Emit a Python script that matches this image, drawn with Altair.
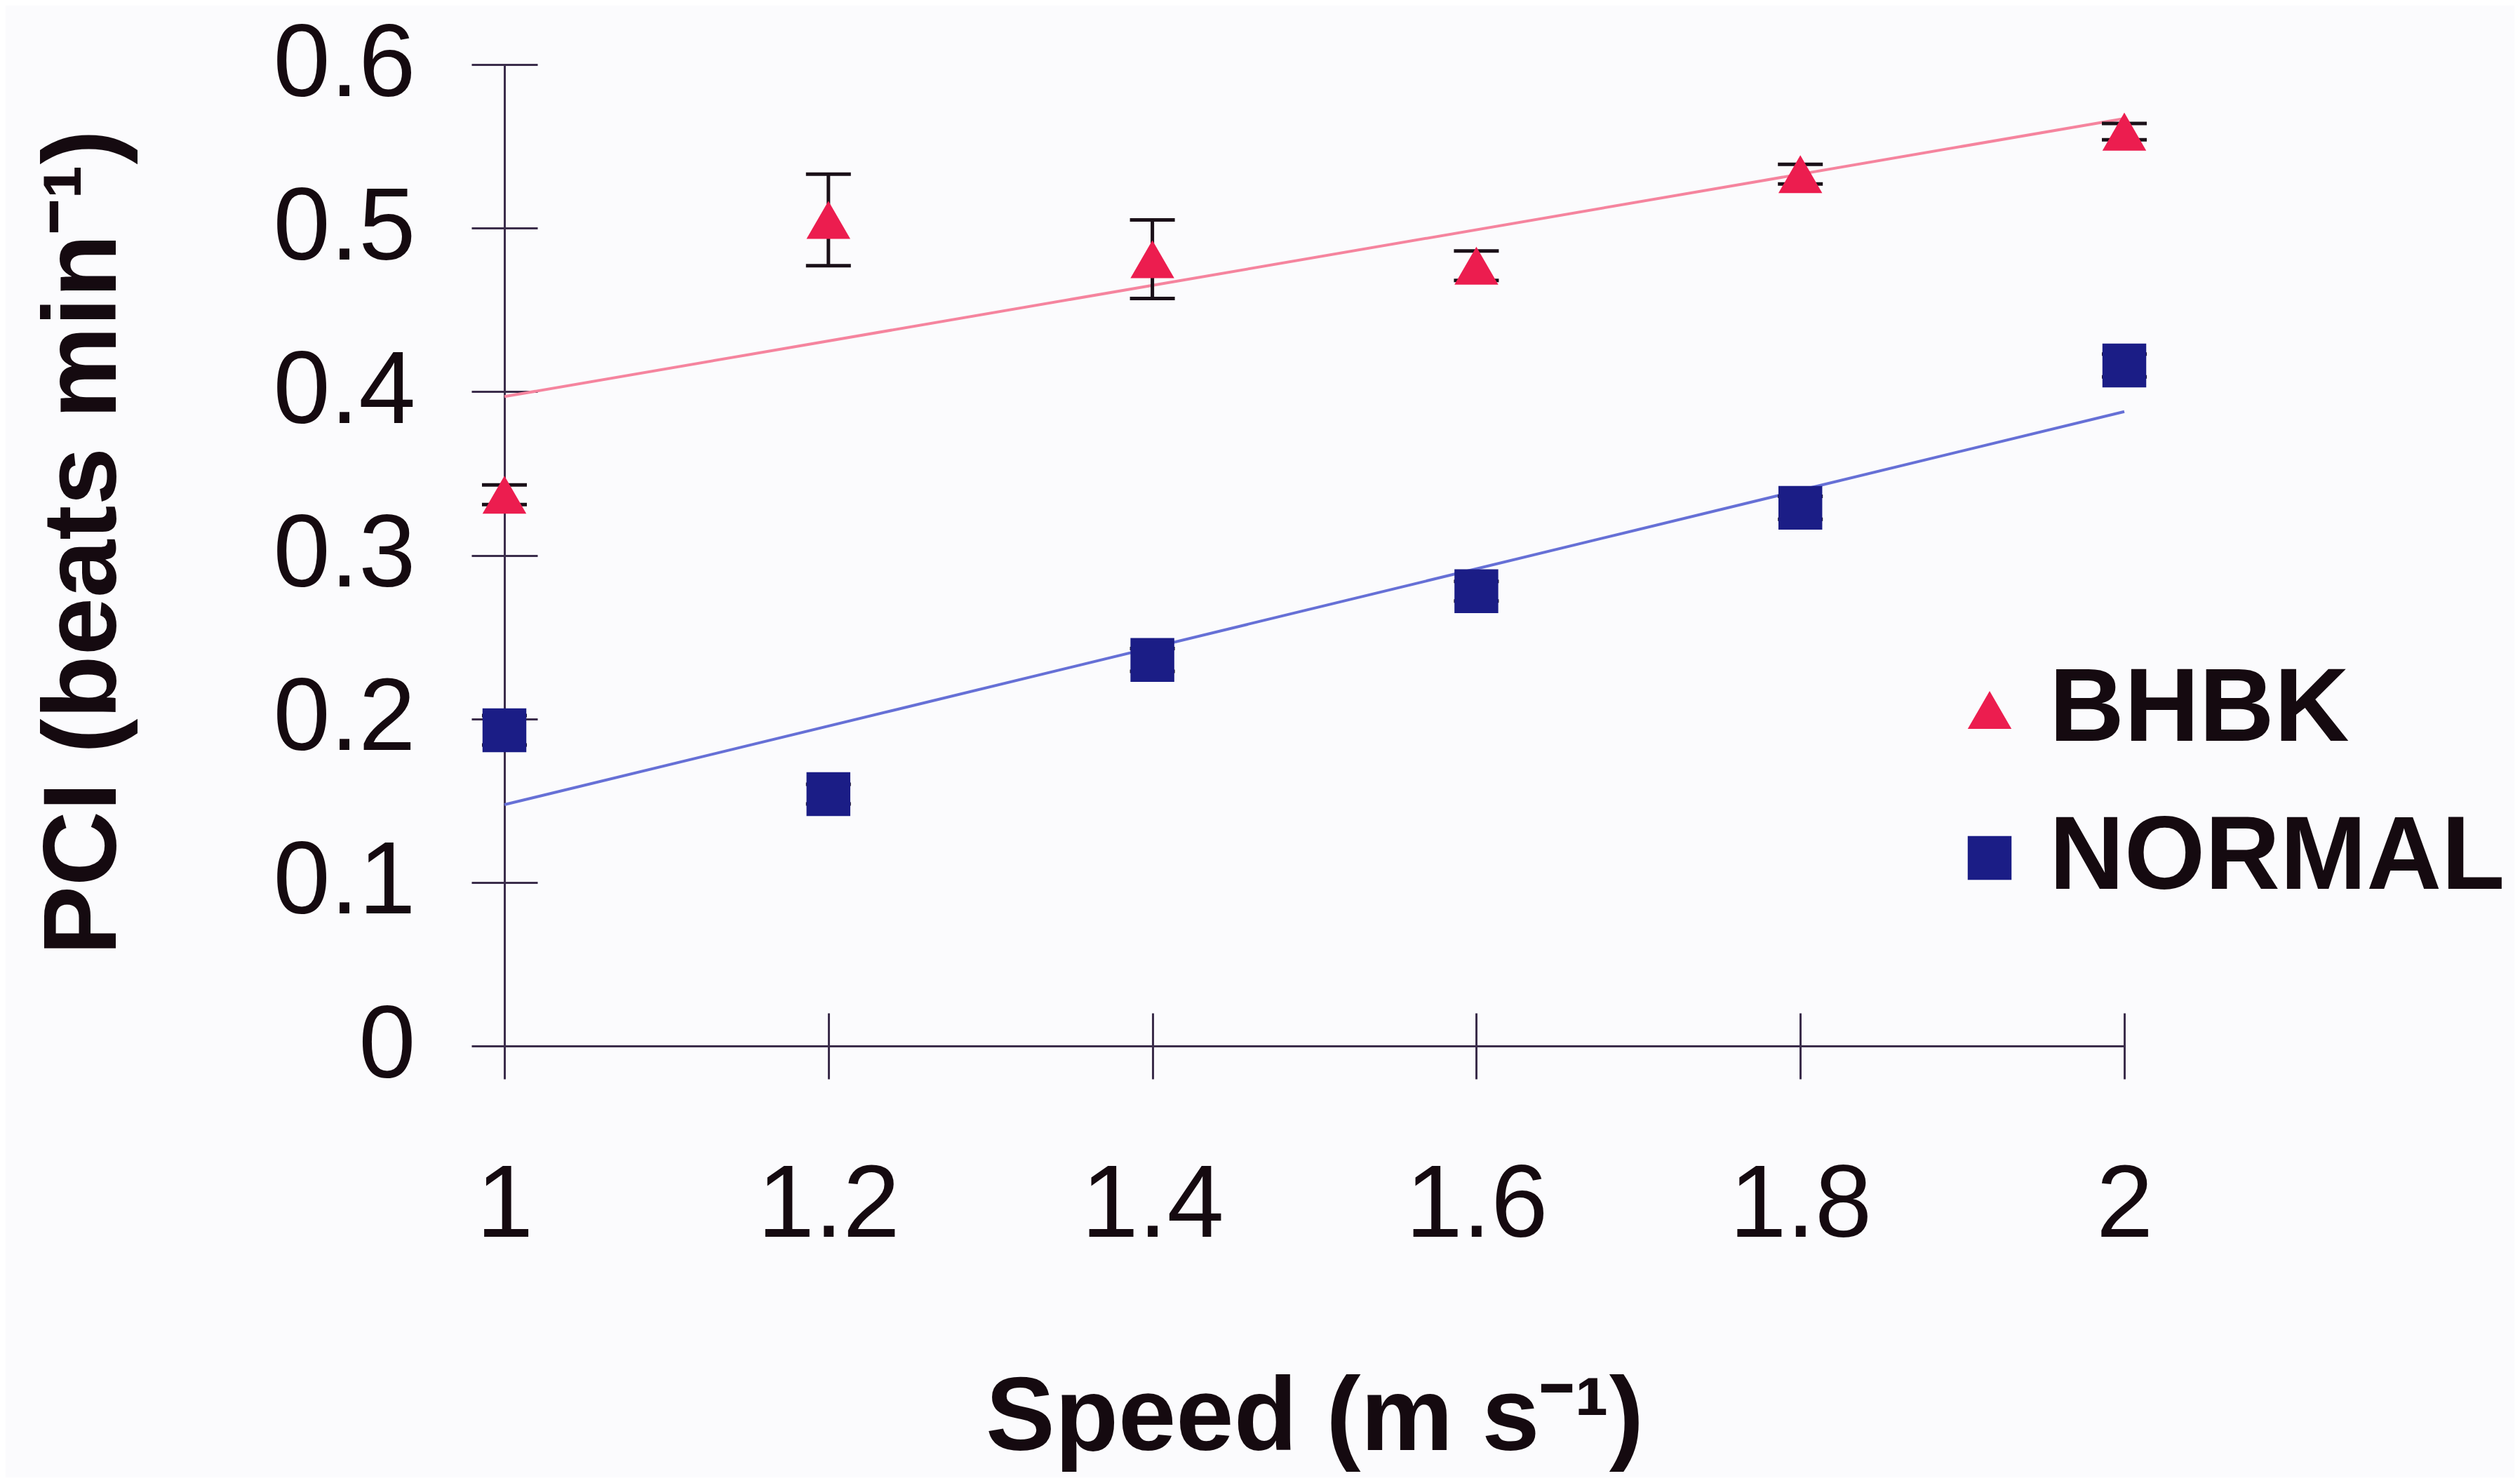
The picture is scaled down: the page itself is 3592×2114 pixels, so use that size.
import altair as alt
import pandas as pd

# ---- data ----
speeds = [1.0, 1.2, 1.4, 1.6, 1.8, 2.0]
bhbk_pci = [0.337, 0.505, 0.481, 0.477, 0.533, 0.559]
bhbk_err = [0.006, 0.028, 0.024, 0.009, 0.006, 0.005]
normal_pci = [0.193, 0.154, 0.236, 0.278, 0.329, 0.416]
normal_err = [0.009, 0.006, 0.007, 0.006, 0.007, 0.007]
series_names = ["BHBK", "NORMAL"]
x_ticks = [1, 1.2, 1.4, 1.6, 1.8, 2]
y_ticks = [0, 0.1, 0.2, 0.3, 0.4, 0.5, 0.6]

rows = []
for s, p, e in zip(speeds, bhbk_pci, bhbk_err):
    rows.append({"speed": s, "pci": p, "err": e, "series": "BHBK"})
for s, p, e in zip(speeds, normal_pci, normal_err):
    rows.append({"speed": s, "pci": p, "err": e, "series": "NORMAL"})
df = pd.DataFrame(rows)
df["lo"] = df["pci"] - df["err"]
df["hi"] = df["pci"] + df["err"]

FONT = "Liberation Sans"
AXIS_COL = "#3b2d4b"
TXT_COL = "#150a10"

xscale = alt.Scale(domain=[1, 2], nice=False, zero=False)
yscale = alt.Scale(domain=[0, 0.6], nice=False)

# Axis A: crossing ticks, labels and titles (shifted inward so ticks straddle the axis line)
x_axis_a = alt.Axis(orient="bottom", values=x_ticks, format="~g", offset=-47,
                    domain=False, ticks=True, tickSize=94, tickWidth=3, tickColor=AXIS_COL,
                    grid=False, labelFont=FONT, labelFontSize=146, labelColor=TXT_COL,
                    labelPadding=224, labelBaseline="alphabetic", labelLimit=0,
                    labelFlush=False, labelOverlap=False,
                    title="Speed (m s⁻¹)", titleFont=FONT, titleFontSize=148,
                    titleFontWeight="bold", titleColor=TXT_COL, titleLimit=0,
                    titleY=622, titleBaseline="alphabetic")
y_axis_a = alt.Axis(orient="left", values=y_ticks, format="~g", offset=-47,
                    domain=False, ticks=True, tickSize=94, tickWidth=3, tickColor=AXIS_COL,
                    grid=False, labelFont=FONT, labelFontSize=146, labelColor=TXT_COL,
                    labelPadding=80, labelLimit=0, labelFlush=False, labelOverlap=False,
                    title="PCI (beats min⁻¹)", titleFont=FONT, titleFontSize=148,
                    titleFontWeight="bold", titleColor=TXT_COL, titleLimit=0,
                    titleX=-646, titleY=681, titleAngle=-90, titleAlign="center",
                    titleBaseline="middle")
# Axis B: only the axis lines
x_axis_b = alt.Axis(orient="bottom", domain=True, domainColor=AXIS_COL, domainWidth=3,
                    ticks=False, labels=False, grid=False, title=None)
y_axis_b = alt.Axis(orient="left", domain=True, domainColor=AXIS_COL, domainWidth=3,
                    ticks=False, labels=False, grid=False, title=None)

legend = alt.Legend(title=None, orient="none", legendX=2043, legendY=846, padding=0,
                    labelFont=FONT, labelFontSize=148, labelFontWeight="bold",
                    labelColor=TXT_COL, labelOffset=11, rowPadding=63, labelLimit=0,
                    symbolSize=3900, symbolStrokeWidth=0, symbolOpacity=1)

base = alt.Chart(df)

trend = base.transform_regression(
    "speed", "pci", groupby=["series"], extent=[1, 2]
).transform_calculate(
    fit="datum.series + ' fit'"
).mark_line(strokeWidth=4).encode(
    x=alt.X("speed:Q", scale=xscale, axis=x_axis_a),
    y=alt.Y("pci:Q", scale=yscale, axis=y_axis_a),
    stroke=alt.Stroke("fit:N",
                      scale=alt.Scale(domain=["BHBK fit", "NORMAL fit"],
                                      range=["#f5849e", "#6670d6"]),
                      legend=None),
)

stems = base.mark_rule(color="#1a1018", strokeWidth=5).encode(
    x=alt.X("speed:Q", scale=xscale, axis=x_axis_b),
    y=alt.Y("lo:Q", scale=yscale, axis=y_axis_b),
    y2="hi:Q",
)

caps_lo = base.mark_tick(orient="horizontal", size=64, thickness=5, color="#1a1018",
                         opacity=1).encode(
    x=alt.X("speed:Q", scale=xscale, axis=None),
    y=alt.Y("lo:Q", scale=yscale, axis=None),
)
caps_hi = base.mark_tick(orient="horizontal", size=64, thickness=5, color="#1a1018",
                         opacity=1).encode(
    x=alt.X("speed:Q", scale=xscale, axis=None),
    y=alt.Y("hi:Q", scale=yscale, axis=None),
)

points = base.mark_point(filled=True, opacity=1, size=3900, strokeWidth=0).encode(
    x=alt.X("speed:Q", scale=xscale, axis=None),
    y=alt.Y("pci:Q", scale=yscale, axis=None),
    shape=alt.Shape("series:N",
                    scale=alt.Scale(domain=series_names, range=["triangle-up", "square"]),
                    legend=legend),
    color=alt.Color("series:N",
                    scale=alt.Scale(domain=series_names, range=["#ec1d4f", "#1b1d86"]),
                    legend=legend),
)

chart = alt.layer(trend, stems, caps_lo, caps_hi, points).resolve_axis(
    x="independent", y="independent"
).properties(
    width=2309,
    height=1399,
    autosize=alt.AutoSizeParams(type="none"),
    padding={"left": 711, "top": 84, "right": 556, "bottom": 615},
    background="#fbfbfd",
).configure_view(
    stroke=None
)

chart.save("out.html", embed_options={"renderer": "svg", "actions": False})
